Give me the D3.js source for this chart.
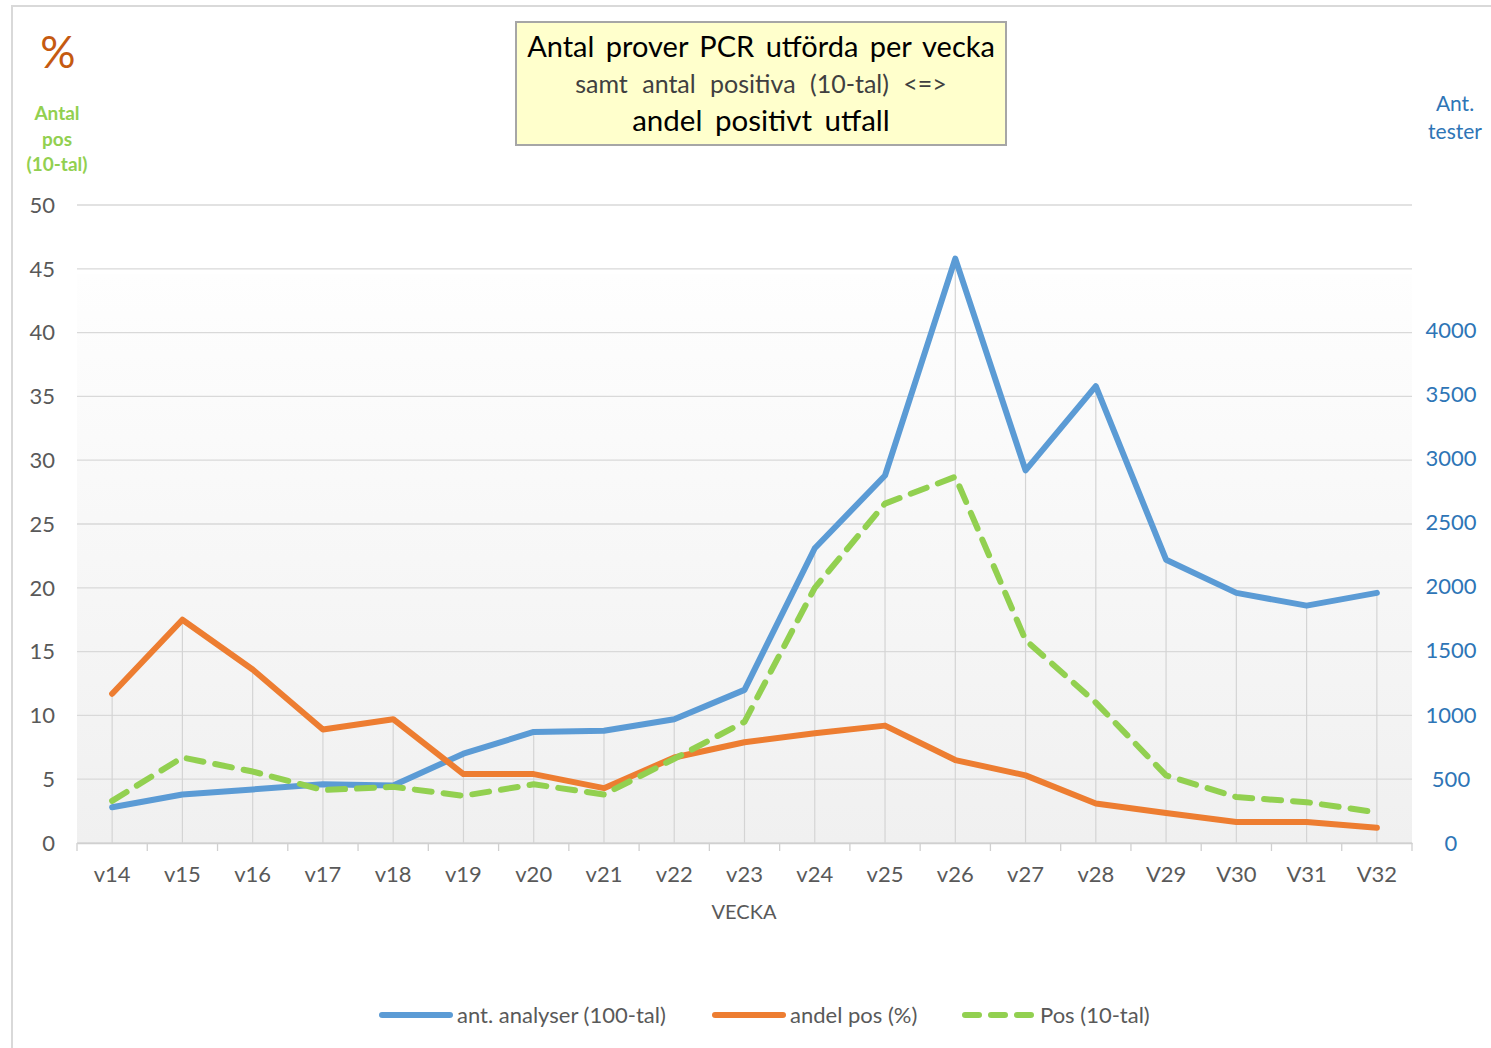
<!DOCTYPE html>
<html>
  <head>
    <meta charset="utf-8" />
    <title>PCR prover per vecka</title>
    <script src="https://d3js.org/d3.v7.min.js"></script>
    <style>
      body { margin: 0; background: #fff; }
      svg { font-family: Lato, "Noto Sans", sans-serif; }
    </style>
  </head>
  <body>
    <svg id="chart" width="1491" height="1048"></svg>

    <script>
      var weeks = ["v14", "v15", "v16", "v17", "v18", "v19", "v20", "v21", "v22", "v23",
                   "v24", "v25", "v26", "v27", "v28", "V29", "V30", "V31", "V32"];

      // ant. analyser (100-tal)
      var analyser = [2.8, 3.8, 4.2, 4.6, 4.5, 7.0, 8.7, 8.8, 9.7, 12.0,
                      23.1, 28.8, 45.8, 29.2, 35.8, 22.2, 19.6, 18.6, 19.6];
      // andel pos (%)
      var andelPos = [11.7, 17.5, 13.6, 8.9, 9.7, 5.4, 5.4, 4.3, 6.7, 7.9,
                      8.6, 9.2, 6.5, 5.3, 3.1, 2.35, 1.65, 1.65, 1.2];
      // Pos (10-tal)
      var pos10 = [3.3, 6.7, 5.6, 4.15, 4.4, 3.7, 4.6, 3.8, 6.6, 9.5,
                   20.0, 26.6, 28.7, 15.9, 11.0, 5.3, 3.6, 3.2, 2.4];

      var leftTicks = [0, 5, 10, 15, 20, 25, 30, 35, 40, 45, 50];
      var rightTicks = [0, 500, 1000, 1500, 2000, 2500, 3000, 3500, 4000];

      var series = [
        { name: "ant. analyser (100-tal)", values: analyser, color: "#5b9bd5", dash: null },
        { name: "andel pos (%)", values: andelPos, color: "#ed7d31", dash: null },
        { name: "Pos (10-tal)", values: pos10, color: "#92d050", dash: "17,12" }
      ];

      var svg = d3.select("#chart");
      var plotLeft = 77, plotRight = 1412, plotTop = 205, plotBottom = 843;

      var x = d3.scaleBand().domain(weeks).range([plotLeft, plotRight]);
      var y = d3.scaleLinear().domain([0, 50]).range([plotBottom, plotTop]);
      var yR = d3.scaleLinear().domain([0, 5000]).range([plotBottom, plotTop - 3]);

      // outer frame
      svg.append("rect")
        .attr("x", 12).attr("y", 6)
        .attr("width", 1500).attr("height", 1060)
        .attr("fill", "#fff")
        .attr("stroke", "#d9d9d9")
        .attr("stroke-width", 2);

      // plot background gradient
      var grad = svg.append("defs").append("linearGradient")
        .attr("id", "bg").attr("x1", 0).attr("y1", 0).attr("x2", 0).attr("y2", 1);
      grad.append("stop").attr("offset", "0%").attr("stop-color", "#fefefe");
      grad.append("stop").attr("offset", "100%").attr("stop-color", "#f0f0f0");

      svg.append("rect")
        .attr("x", plotLeft).attr("y", y(45) + 5)
        .attr("width", plotRight - plotLeft).attr("height", plotBottom - y(45) - 5)
        .attr("fill", "url(#bg)");

      // horizontal gridlines
      svg.append("g")
        .selectAll("line")
        .data(leftTicks)
        .enter()
        .append("line")
        .attr("x1", plotLeft).attr("x2", plotRight)
        .attr("y1", function (d) { return y(d); })
        .attr("y2", function (d) { return y(d); })
        .attr("stroke", "#d9d9d9")
        .attr("stroke-width", 1.3);

      // drop lines from highest point per week
      svg.append("g")
        .selectAll("line")
        .data(weeks)
        .enter()
        .append("line")
        .attr("x1", function (d) { return x(d) + x.bandwidth() / 2; })
        .attr("x2", function (d) { return x(d) + x.bandwidth() / 2; })
        .attr("y1", function (d, i) {
          return y(Math.max(analyser[i], andelPos[i], pos10[i]));
        })
        .attr("y2", plotBottom)
        .attr("stroke", "#d4d4d4")
        .attr("stroke-width", 1.2);

      // x axis
      var xAxis = svg.append("g")
        .attr("transform", "translate(0," + plotBottom + ")")
        .call(d3.axisBottom(x).tickSize(0).tickPadding(23));
      xAxis.select(".domain").attr("stroke", "#d0d0d0").attr("stroke-width", 1.5);
      xAxis.selectAll("text")
        .attr("fill", "#595959")
        .style("font-size", "22px")
        .style("font-family", "Lato, sans-serif");

      // category boundary ticks
      svg.append("g")
        .selectAll("line")
        .data(d3.range(weeks.length + 1))
        .enter()
        .append("line")
        .attr("x1", function (i) { return plotLeft + i * x.bandwidth(); })
        .attr("x2", function (i) { return plotLeft + i * x.bandwidth(); })
        .attr("y1", plotBottom).attr("y2", plotBottom + 8)
        .attr("stroke", "#d0d0d0")
        .attr("stroke-width", 1.3);

      // left axis labels
      svg.append("g")
        .selectAll("text")
        .data(leftTicks)
        .enter()
        .append("text")
        .attr("x", 55)
        .attr("y", function (d) { return y(d); })
        .attr("dy", "0.35em")
        .attr("text-anchor", "end")
        .attr("fill", "#595959")
        .style("font-size", "22px")
        .text(function (d) { return d; });

      // right axis labels
      svg.append("g")
        .selectAll("text")
        .data(rightTicks)
        .enter()
        .append("text")
        .attr("x", 1451)
        .attr("y", function (d) { return yR(d); })
        .attr("dy", "0.35em")
        .attr("text-anchor", "middle")
        .attr("fill", "#2e75b6")
        .style("font-size", "22px")
        .text(function (d) { return d; });

      // series lines
      var line = d3.line()
        .x(function (d, i) { return x(weeks[i]) + x.bandwidth() / 2; })
        .y(function (d) { return y(d); });

      series.forEach(function (s) {
        svg.append("path")
          .datum(s.values)
          .attr("d", line)
          .attr("fill", "none")
          .attr("stroke", s.color)
          .attr("stroke-width", 6)
          .attr("stroke-linejoin", "round")
          .attr("stroke-linecap", "round")
          .attr("stroke-dasharray", s.dash);
      });

      // axis titles
      svg.append("text")
        .attr("x", 744).attr("y", 919)
        .attr("text-anchor", "middle")
        .attr("fill", "#595959")
        .style("font-size", "20px")
        .text("VECKA");

      svg.append("text")
        .attr("x", 58).attr("y", 68)
        .attr("text-anchor", "middle")
        .attr("fill", "#c55a11")
        .style("font-size", "44px")
        .text("%");

      var greenLab = ["Antal", "pos", "(10-tal)"];
      svg.append("g")
        .selectAll("text")
        .data(greenLab)
        .enter()
        .append("text")
        .attr("x", 57)
        .attr("y", function (d, i) { return 120 + i * 25.5; })
        .attr("text-anchor", "middle")
        .attr("fill", "#92d050")
        .style("font-size", "19px")
        .style("font-weight", "bold")
        .text(function (d) { return d; });

      var blueLab = ["Ant.", "tester"];
      svg.append("g")
        .selectAll("text")
        .data(blueLab)
        .enter()
        .append("text")
        .attr("x", 1455)
        .attr("y", function (d, i) { return 111 + i * 28; })
        .attr("text-anchor", "middle")
        .attr("fill", "#2e75b6")
        .style("font-size", "21px")
        .text(function (d) { return d; });

      // title box
      svg.append("rect")
        .attr("x", 516).attr("y", 22)
        .attr("width", 490).attr("height", 123)
        .attr("fill", "#ffffcc")
        .attr("stroke", "#a6a6a6")
        .attr("stroke-width", 2);

      var titleLines = [
        { t: "Antal prover PCR utförda per vecka", size: 29, y: 57, color: "#000", ws: 4 },
        { t: "samt antal positiva (10-tal) <=>", size: 25, y: 93, color: "#404040", ws: 8 },
        { t: "andel positivt utfall", size: 29.5, y: 131, color: "#000", ws: 5 }
      ];
      svg.append("g")
        .selectAll("text")
        .data(titleLines)
        .enter()
        .append("text")
        .attr("x", 761)
        .attr("y", function (d) { return d.y; })
        .attr("text-anchor", "middle")
        .attr("fill", function (d) { return d.color; })
        .style("font-size", function (d) { return d.size + "px"; })
        .style("word-spacing", function (d) { return d.ws + "px"; })
        .text(function (d) { return d.t; });

      // legend
      var legendX = [380, 713, 963];
      var legend = svg.append("g")
        .selectAll("g")
        .data(series)
        .enter()
        .append("g")
        .attr("transform", function (d, i) { return "translate(" + legendX[i] + ",1015)"; });

      legend.append("line")
        .attr("x1", 2).attr("x2", 70)
        .attr("y1", 0).attr("y2", 0)
        .attr("stroke", function (d) { return d.color; })
        .attr("stroke-width", 6)
        .attr("stroke-linecap", "round")
        .attr("stroke-dasharray", function (d) { return d.dash ? "14,12" : null; });

      legend.append("text")
        .attr("x", 77)
        .attr("y", 0)
        .attr("dy", "0.35em")
        .attr("fill", "#595959")
        .style("font-size", "22px")
        .text(function (d) { return d.name; });
    </script>
  </body>
</html>
